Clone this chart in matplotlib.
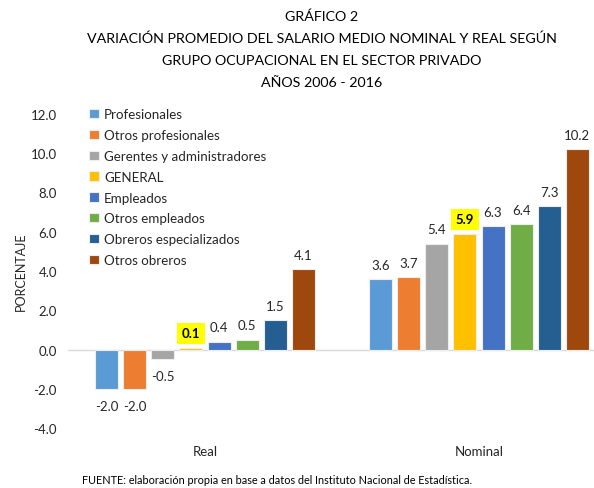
import matplotlib
matplotlib.use("Agg")
import matplotlib.pyplot as plt
import numpy as np

plt.rcParams['font.family'] = ['Lato', 'DejaVu Sans']

categories = ["Real", "Nominal"]
series_names = ["Profesionales", "Otros profesionales", "Gerentes y administradores",
                "GENERAL", "Empleados", "Otros empleados", "Obreros especializados", "Otros obreros"]
real_vals = [-2.0, -2.0, -0.5, 0.1, 0.4, 0.5, 1.5, 4.1]
nominal_vals = [3.6, 3.7, 5.4, 5.9, 6.3, 6.4, 7.3, 10.2]
colors = ["#5B9BD5", "#ED7D31", "#A5A5A5", "#FFC000", "#4472C4", "#70AD47", "#255E91", "#9E480E"]
yticks = [-4.0, -2.0, 0.0, 2.0, 4.0, 6.0, 8.0, 10.0, 12.0]

W, H = 594, 489
fig = plt.figure(figsize=(W/100, H/100), dpi=100)
ax_left, ax_right, ax_top, ax_bot = 68, 616, 115, 429
ax = fig.add_axes([ax_left/W, 1-ax_bot/H, (ax_right-ax_left)/W, (ax_bot-ax_top)/H])

n = len(series_names)
slot = 0.1026
bw = 0.084
x = np.arange(len(categories))
for i, name in enumerate(series_names):
    vals = [real_vals[i], nominal_vals[i]]
    pos = x + (i - (n-1)/2) * slot
    ax.bar(pos, vals, width=bw, color=colors[i], edgecolor="#EDEDED", linewidth=0.8,
           label=name, zorder=3)
    for p, v in zip(pos, vals):
        is_gen = name == "GENERAL"
        kw = dict(ha="center", fontsize=9.5, color="#262626")
        if is_gen:
            kw.update(fontweight="bold", color="black",
                      bbox=dict(boxstyle="square,pad=0.35", fc="#FFFF00", ec="none"))
        if v >= 0:
            ax.annotate(f"{v:.1f}", (p, v), xytext=(0, 6), textcoords="offset points",
                        va="bottom", **kw)
        else:
            ax.annotate(f"{v:.1f}", (p, v), xytext=(0, -8), textcoords="offset points",
                        va="top", **kw)

ax.set_xlim(-0.5, 1.5)
ax.set_ylim(-4, 12)
ax.set_yticks(yticks)
ax.set_yticklabels([f"{t:.1f}" for t in yticks], fontsize=9.5, color="#262626")
ax.set_xticks(x)
ax.set_xticklabels(categories, fontsize=9.5, color="#262626")
ax.tick_params(axis="both", length=0)
ax.tick_params(axis="y", pad=8)
ax.tick_params(axis="x", pad=12)
for s in ["top", "right", "left", "bottom"]:
    ax.spines[s].set_visible(False)
ax.axhline(0, color="#D9D9D9", linewidth=1, zorder=2)
ax.set_ylabel("PORCENTAJE", fontsize=9, color="#262626", labelpad=3)

leg = ax.legend(loc="upper left", bbox_to_anchor=((84-ax_left)/(ax_right-ax_left), 1.035),
                frameon=False, fontsize=9.6, handlelength=0.7, handleheight=0.7,
                handletextpad=0.4, labelspacing=0.66, borderaxespad=0)
for t in leg.get_texts():
    t.set_color("#262626")

title_lines = ["GRÁFICO 2",
               "VARIACIÓN PROMEDIO DEL SALARIO MEDIO NOMINAL Y REAL SEGÚN",
               "GRUPO OCUPACIONAL EN EL SECTOR PRIVADO",
               "AÑOS 2006 - 2016"]
ys = [17, 39, 61, 83]
for t, yy in zip(title_lines, ys):
    fig.text(322/W, 1-yy/H, t, ha="center", va="center", fontsize=10.3, color="black")

fig.text(82/W, 1-481/H, "FUENTE: elaboración propia en base a datos del Instituto Nacional de Estadística.",
         ha="left", va="center", fontsize=7.8, color="black")

fig.savefig("out.png", dpi=100)
